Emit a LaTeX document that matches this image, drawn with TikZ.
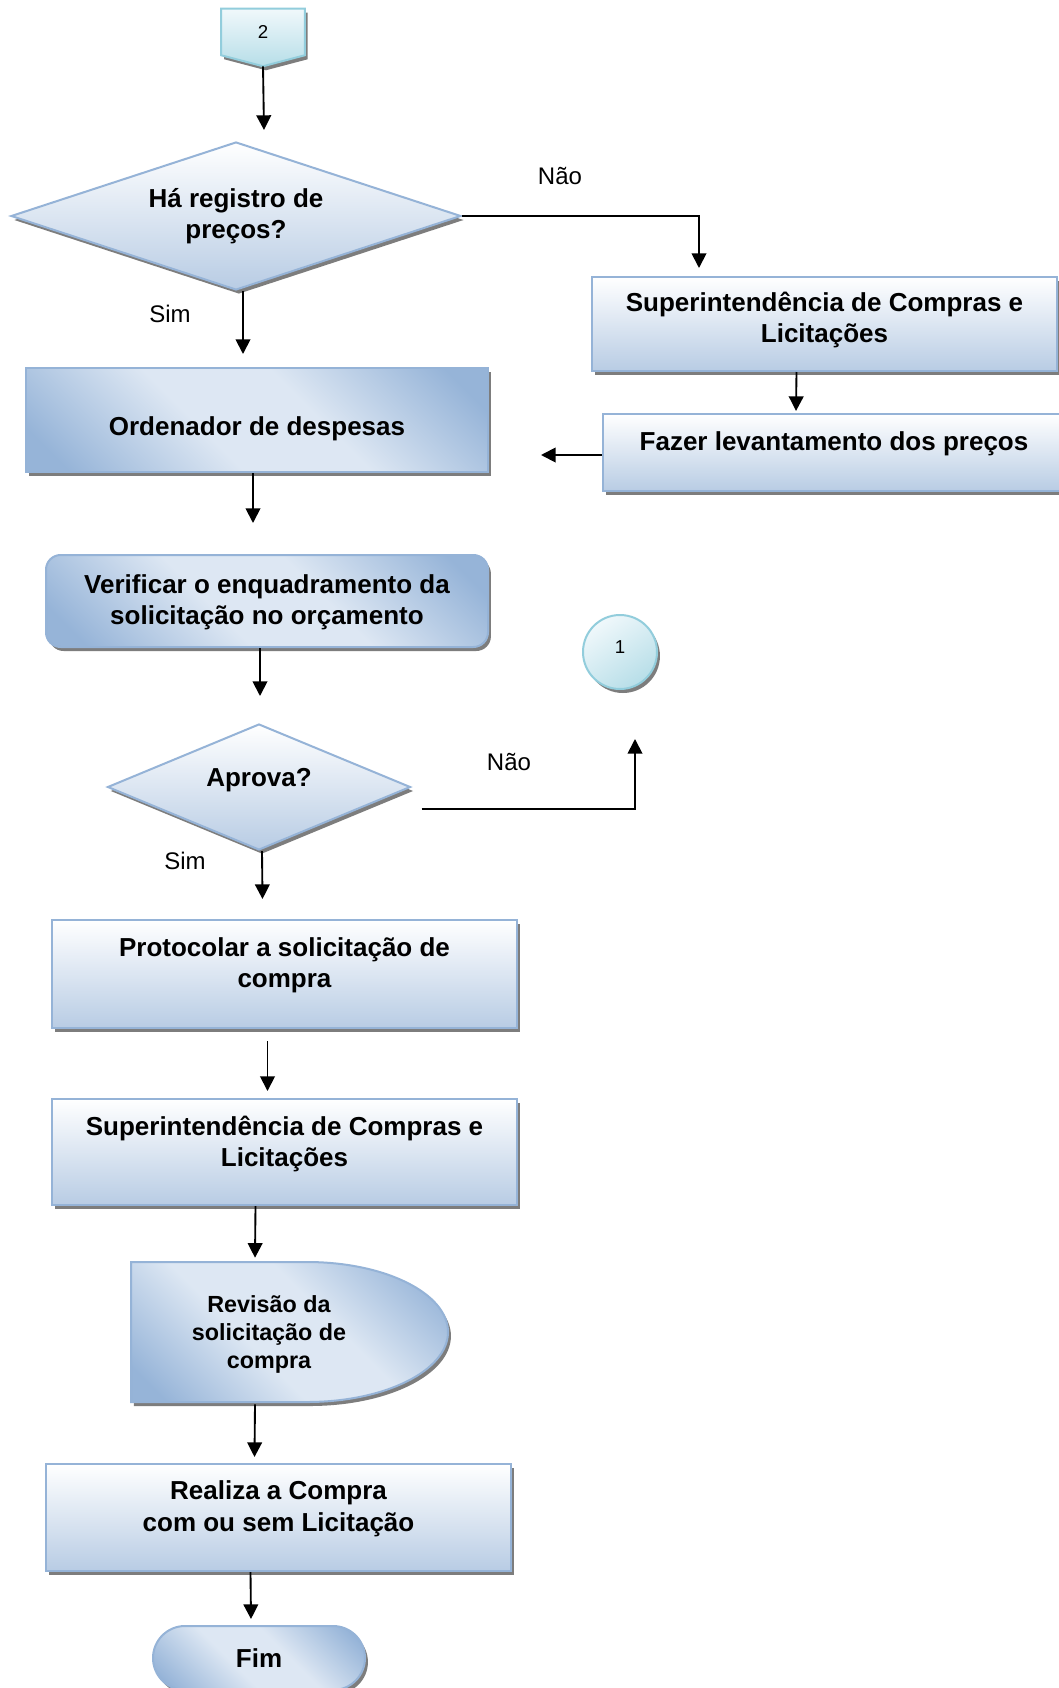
\documentclass[tikz,border=0pt]{standalone}
\usepackage{fontspec}
\setmainfont{Liberation Sans}
\usetikzlibrary{arrows.meta,calc,shapes.geometric,shapes.misc,shadows}

\definecolor{edgeblue}{RGB}{149,179,215}
\definecolor{lowblue}{RGB}{184,204,228}
\definecolor{paleblue}{RGB}{221,231,243}
\definecolor{deepblue}{RGB}{150,180,216}
\definecolor{edgeteal}{RGB}{146,205,220}
\definecolor{lowteal}{RGB}{183,222,232}
\definecolor{topteal}{RGB}{240,248,251}
\definecolor{shadowgray}{RGB}{125,125,125}

% diagonal band: blue corners, pale middle
\pgfdeclarehorizontalshading{crossblue}{100bp}{%
  color(0bp)=(deepblue); color(20bp)=(deepblue); color(42bp)=(paleblue);
  color(58bp)=(paleblue); color(80bp)=(deepblue); color(100bp)=(deepblue)}

\pgfdeclarelayer{canvas}
\pgfdeclarelayer{back}
\pgfsetlayers{canvas,back,main}

\begin{document}
\begin{tikzpicture}[x=0.75pt,y=-0.75pt,
  font=\bfseries\fontsize{19.5}{23.5}\selectfont,
  outline/.style={draw=edgeblue,line width=1.5pt},
  flowshadow/.style={drop shadow={shadow xshift=2.2pt,shadow yshift=-3pt,fill=shadowgray,opacity=1}},
  plainbox/.style={rectangle,outline,flowshadow,top color=white,bottom color=lowblue,align=center,inner sep=0pt},
  crossfill/.style={shade,shading=crossblue,shading angle=45},
  crossbox/.style={rectangle,outline,flowshadow,crossfill,align=center,inner sep=0pt},
  decision/.style={diamond,outline,flowshadow,top color=white,bottom color=lowblue,align=center,inner sep=0pt},
  tealfill/.style={top color=topteal,bottom color=lowteal,draw=edgeteal,line width=1.5pt},
  numfont/.style={font=\mdseries\fontsize{14}{16}\selectfont},
  answer/.style={font=\mdseries\fontsize{18}{21}\selectfont,inner sep=0pt},
  link/.style={line width=1.4pt,-{Triangle[length=11pt,width=11pt]}},
]
\useasboundingbox (0,0) rectangle (1058,1688);
\begin{pgfonlayer}{canvas}
  \fill[white] (0,0) rectangle (1058,1688);
\end{pgfonlayer}

% off-page connector 2
\node[numfont,minimum width=62.25pt,minimum height=34.5pt,inner sep=0pt] (c2) at (263,32) {2};
\begin{pgfonlayer}{back}
  \path[tealfill,flowshadow] (c2.north west) -- (c2.north east) -- (c2.south east)
    -- ($(c2.south)+(0,11)$) coordinate (c2tip) -- (c2.south west) -- cycle;
\end{pgfonlayer}

% first decision and the price survey branch
\node[decision,minimum width=337.5pt,minimum height=111pt,aspect=3.04] (d1) at (236,216) {Há registro de\\preços?};
\node[plainbox,minimum width=348.75pt,minimum height=70.5pt,text depth=10pt] (sup1) at (824.5,324) {Superintendência de Compras e\\Licitações};
\node[plainbox,minimum width=346.5pt,minimum height=57.75pt,text depth=16.5pt] (faz) at (834,452.5) {Fazer levantamento dos preços};

% main column
\node[crossbox,minimum width=346.5pt,minimum height=78pt,text height=28pt] (ord) at (257,420) {Ordenador de despesas};
\node[crossbox,rounded corners=11pt,minimum width=331.5pt,minimum height=69pt,text depth=2pt] (ver) at (267,601) {Verificar o enquadramento da\\solicitação no orçamento};
\node[circle,tealfill,shading angle=35,flowshadow,minimum size=55.5pt,inner sep=0pt,numfont,text depth=8pt] (c1) at (620,652) {1};
\node[decision,minimum width=227.25pt,minimum height=94.5pt,aspect=2.4,text depth=14.5pt] (d2) at (259,787) {Aprova?};
\node[plainbox,minimum width=348.75pt,minimum height=81pt,text depth=17.2pt] (prot) at (284.5,974) {Protocolar a solicitação de\\compra};
\node[plainbox,minimum width=348.75pt,minimum height=79.5pt,text depth=16pt] (sup2) at (284.5,1152) {Superintendência de Compras e\\Licitações};

% delay-shaped review step
\node[align=center,inner sep=0pt,minimum height=105pt,font=\bfseries\fontsize{17.5}{21}\selectfont] (rev) at (269,1334) {Revisão da\\solicitação de\\compra};
\begin{pgfonlayer}{back}
  \path[outline,flowshadow,crossfill] ($(rev.center)+(-138,-72)$) -- ($(rev.center)+(38,-72)$)
    arc[start angle=-90,end angle=90,x radius=141,y radius=70] -- ($(rev.center)+(-138,68)$) -- cycle;
\end{pgfonlayer}

\node[plainbox,minimum width=348.75pt,minimum height=80.25pt,text depth=17.3pt] (real) at (278.5,1517.5) {Realiza a Compra\\com ou sem Licitação};
\node[rounded rectangle,outline,flowshadow,crossfill,minimum width=159pt,minimum height=48pt,inner sep=0pt] (fim) at (259,1658) {Fim};

% branch labels
\node[answer] (no1) at (560,176) {Não};
\node[answer] (yes1) at (170,314) {Sim};
\node[answer] (no2) at (509,762) {Não};
\node[answer] (yes2) at (185,861) {Sim};

% connectors
\draw[link] (c2tip) -- ($(d1.north)+(28,-11)$);
\draw[link] (d1.east) -| ($(sup1.north west)+(108,-8)$);
\draw[link] ($(d1.south)+(7,0)$) -- ($(ord.north)+(-14,-13)$);
\draw[link] ($(sup1.south)+(-28,0)$) -- ($(faz.north)+(-38,-2)$);
\draw[link] ($(faz.west)+(0,2.5)$) -- ($(ord.east |- faz.west)+(52,2.5)$);
\draw[link] ($(ord.south)+(-4,0)$) -- ($(ver.north)+(-14,-31)$);
\draw[link] ($(ver.south)+(-7,0)$) -- ($(d2.north)+(1,-27)$);
\draw[link] ($(d2.east)+(10,22)$) -| ($(c1.south)+(15,49)$);
\draw[link] ($(d2.south)+(3,0)$) -- ($(prot.north)+(-22,-20)$);
\draw[link] ($(prot.south)+(-17,12)$) -- ($(sup2.north)+(-17,-7)$);
\draw[link] ($(sup2.south)+(-29,0)$) -- ($(rev.north)+(-14,-6)$);
\draw[link] ($(rev.south)+(-14,0)$) -- ($(real.north)+(-24,-6)$);
\draw[link] ($(real.south)+(-28,0)$) -- ($(fim.north)+(-8,-6)$);
\end{tikzpicture}
\end{document}
